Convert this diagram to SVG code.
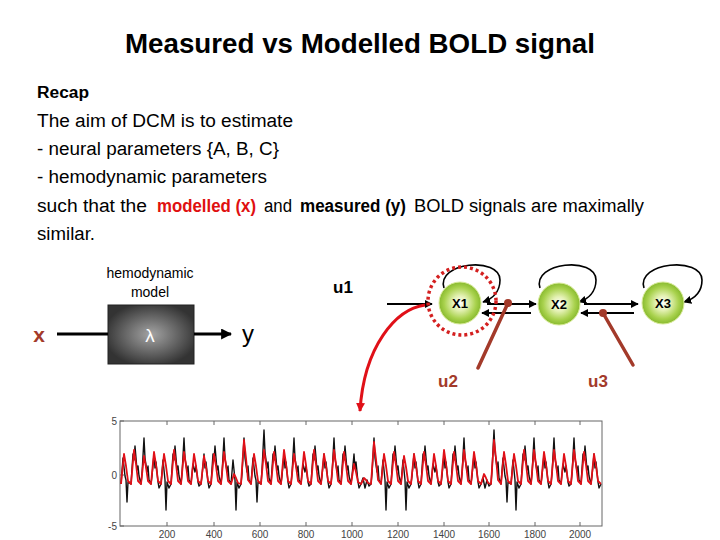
<svg xmlns="http://www.w3.org/2000/svg" width="720" height="540" viewBox="0 0 720 540">
<style>
.t{font-family:"Liberation Sans",Arial,sans-serif;fill:#000}
.b{font-weight:bold}
.body{font-size:18px}
.brown{fill:#a33a2a}
.ln{fill:none;stroke:#000;stroke-width:2}
.loop{fill:none;stroke:#000;stroke-width:1.6}
.mod{stroke:#a33a2a;stroke-width:3.5;stroke-linecap:round}
.tick{stroke:#666;stroke-width:1}
.ax{font-family:"Liberation Sans",Arial,sans-serif;font-size:10px;fill:#444}
.nl{font-family:"Liberation Sans",Arial,sans-serif;font-size:13px;font-weight:bold;fill:#000;text-anchor:middle}
</style>
<defs>
<marker id="ab" viewBox="0 0 10 10" refX="9" refY="5" markerWidth="8" markerHeight="8" markerUnits="userSpaceOnUse" orient="auto"><path d="M0,0 L10,5 L0,10 z" fill="#000"/></marker>
<marker id="abig" viewBox="0 0 10 10" refX="9" refY="5" markerWidth="11" markerHeight="11" markerUnits="userSpaceOnUse" orient="auto"><path d="M0,0 L10,5 L0,10 z" fill="#000"/></marker>
<marker id="ar" viewBox="0 0 10 10" refX="9" refY="5" markerWidth="9" markerHeight="9" markerUnits="userSpaceOnUse" orient="auto"><path d="M0,0 L10,5 L0,10 z" fill="#e01018"/></marker>
<radialGradient id="gn" cx="50%" cy="50%" r="50%">
<stop offset="0%" stop-color="#ffffff"/><stop offset="35%" stop-color="#e4f1b4"/><stop offset="75%" stop-color="#a9d24e"/><stop offset="100%" stop-color="#88ba2e"/>
</radialGradient>
<radialGradient id="gb" cx="50%" cy="50%" r="55%">
<stop offset="0%" stop-color="#a4a4a4"/><stop offset="100%" stop-color="#333333"/>
</radialGradient>
</defs>
<rect width="720" height="540" fill="#fff"/>

<g id="text">
<text class="t b" x="125" y="53" font-size="28" textLength="470" lengthAdjust="spacingAndGlyphs">Measured vs Modelled BOLD signal</text>
<text class="t b" x="37" y="98" font-size="16" textLength="52" lengthAdjust="spacingAndGlyphs">Recap</text>
<text class="t body" x="37" y="127" textLength="256" lengthAdjust="spacingAndGlyphs">The aim of DCM is to estimate</text>
<text class="t body" x="37" y="155" textLength="242" lengthAdjust="spacingAndGlyphs">- neural parameters {A, B, C}</text>
<text class="t body" x="37" y="183" textLength="230" lengthAdjust="spacingAndGlyphs">- hemodynamic parameters</text>
<text class="t body" x="37" y="212" textLength="110" lengthAdjust="spacingAndGlyphs">such that the</text>
<text class="t body b" x="157" y="212" style="fill:#e01010" textLength="99" lengthAdjust="spacingAndGlyphs">modelled (x)</text>
<text class="t body" x="264" y="212" textLength="28" lengthAdjust="spacingAndGlyphs">and</text>
<text class="t body b" x="300" y="212" textLength="106" lengthAdjust="spacingAndGlyphs">measured (y)</text>
<text class="t body" x="414" y="212" textLength="230" lengthAdjust="spacingAndGlyphs">BOLD signals are maximally</text>
<text class="t body" x="37" y="240" textLength="58" lengthAdjust="spacingAndGlyphs">similar.</text>
</g>

<g id="hemo-label">
<text class="t" x="150" y="278" font-size="14" text-anchor="middle" fill="#222">hemodynamic</text>
<text class="t" x="150" y="297" font-size="14" text-anchor="middle" fill="#222">model</text>
</g>
<g id="node-x-in"><text class="t b brown" x="39" y="342" font-size="21" text-anchor="middle">x</text></g>
<g id="node-hemo">
<rect x="108" y="305" width="86" height="59" fill="url(#gb)" stroke="#222" stroke-width="1"/>
<text class="t" x="150" y="342" font-size="19" text-anchor="middle" style="fill:#fff">λ</text>
</g>
<g id="node-y-out"><text class="t" x="248" y="342" font-size="24" text-anchor="middle">y</text></g>
<g id="label-u1"><text class="t b" x="333" y="293" font-size="17">u1</text></g>
<g id="label-u2"><text class="t b brown" x="448" y="387" font-size="17" text-anchor="middle">u2</text></g>
<g id="label-u3"><text class="t b brown" x="598" y="387" font-size="17" text-anchor="middle">u3</text></g>

<g id="connectors">
<line x1="57" y1="334" x2="108" y2="334" stroke="#000" stroke-width="3"/>
<line x1="194" y1="334" x2="231" y2="334" stroke="#000" stroke-width="3" marker-end="url(#abig)"/>
<path class="loop" d="M444 288 C436 262 500 256 500 280 C500 292 492 299 483 302" marker-end="url(#ab)"/>
<path class="loop" d="M540 288 C532 262 596 256 596 280 C596 292 588 299 579 302" marker-end="url(#ab)"/>
<path class="loop" d="M644 288 C636 262 702 256 702 280 C702 292 694 299 684 302" marker-end="url(#ab)"/>
<line class="ln" x1="387" y1="304" x2="432" y2="304" marker-end="url(#ab)"/>
<line class="ln" x1="487" y1="304" x2="536" y2="304" marker-end="url(#ab)"/>
<line class="ln" x1="531" y1="313" x2="482" y2="313" marker-end="url(#ab)"/>
<line class="ln" x1="584" y1="304" x2="638" y2="304" marker-end="url(#ab)"/>
<line class="ln" x1="634" y1="313" x2="581" y2="313" marker-end="url(#ab)"/>
<path d="M425 305 C396 309 364 346 360 411" fill="none" stroke="#e01018" stroke-width="3" marker-end="url(#ar)"/>
</g>

<g id="node-X1">
<circle cx="460" cy="303" r="21" fill="url(#gn)" stroke="#d8ea9a" stroke-width="1"/>
<text class="nl" x="460" y="308">X1</text>
<circle cx="462" cy="301" r="34" fill="none" stroke="#d42020" stroke-width="3.5" stroke-dasharray="3 3"/>
</g>
<g id="node-X2">
<circle cx="559" cy="304" r="21" fill="url(#gn)" stroke="#d8ea9a" stroke-width="1"/>
<text class="nl" x="559" y="309">X2</text>
</g>
<g id="node-X3">
<circle cx="663" cy="303" r="21" fill="url(#gn)" stroke="#d8ea9a" stroke-width="1"/>
<text class="nl" x="663" y="308">X3</text>
</g>

<g id="modulators">
<line class="mod" x1="478" y1="368" x2="508" y2="303"/>
<circle cx="508" cy="303" r="4" fill="#a33a2a"/>
<line class="mod" x1="633" y1="365" x2="603" y2="313"/>
<circle cx="603" cy="313" r="4" fill="#a33a2a"/>
</g>

<g id="plot">
<rect x="120" y="421" width="482" height="105" fill="#fff" stroke="#666" stroke-width="1"/>
<g class="tick">
<line x1="120" y1="421" x2="124" y2="421"/><line x1="120" y1="475" x2="124" y2="475"/><line x1="120" y1="526" x2="124" y2="526"/>
<line x1="167" y1="526" x2="167" y2="522"/><line x1="214" y1="526" x2="214" y2="522"/><line x1="260" y1="526" x2="260" y2="522"/><line x1="306" y1="526" x2="306" y2="522"/><line x1="352" y1="526" x2="352" y2="522"/><line x1="398" y1="526" x2="398" y2="522"/><line x1="444" y1="526" x2="444" y2="522"/><line x1="489" y1="526" x2="489" y2="522"/><line x1="535" y1="526" x2="535" y2="522"/><line x1="580" y1="526" x2="580" y2="522"/>
<line x1="167" y1="421" x2="167" y2="425"/><line x1="214" y1="421" x2="214" y2="425"/><line x1="260" y1="421" x2="260" y2="425"/><line x1="306" y1="421" x2="306" y2="425"/><line x1="352" y1="421" x2="352" y2="425"/><line x1="398" y1="421" x2="398" y2="425"/><line x1="444" y1="421" x2="444" y2="425"/><line x1="489" y1="421" x2="489" y2="425"/><line x1="535" y1="421" x2="535" y2="425"/><line x1="580" y1="421" x2="580" y2="425"/>
</g>
<text class="ax" x="117" y="425" text-anchor="end">5</text>
<text class="ax" x="117" y="479" text-anchor="end">0</text>
<text class="ax" x="117" y="530" text-anchor="end">-5</text>
<g class="ax" text-anchor="middle">
<text x="167" y="538">200</text><text x="214" y="538">400</text><text x="260" y="538">600</text><text x="306" y="538">800</text><text x="352" y="538">1000</text><text x="398" y="538">1200</text><text x="444" y="538">1400</text><text x="489" y="538">1600</text><text x="535" y="538">1800</text><text x="580" y="538">2000</text>
</g>
<path fill="none" stroke="#111" stroke-width="1.4" stroke-linejoin="round" d="M121 484
l2,-26 2,18 1,4 1,22 1,-20 3,2
l2,-30 1,6 1,-14 2,24 1,-4 1,10 2,8
l1,-10 2,-36 1,20 2,14 1,-6 1,14 2,4
l1,-8 2,-22 1,14 1,-6 2,20 1,6 2,-4
l2,-24 2,20 1,30 1,-28 2,6 2,-4
l2,-30 1,6 1,-14 2,24 1,-4 1,10 2,8
l1,-10 2,-36 1,20 2,14 1,-6 1,14 2,4
l2,-20 2,8 1,-6 2,16 1,4 2,-2
l1,-8 2,-22 1,14 1,-6 2,20 1,6 2,-4
l2,-30 1,6 1,-14 2,24 1,-4 1,10 2,8
l1,-10 2,-36 1,20 2,14 1,-6 1,14 2,4
l2,-24 2,20 1,30 1,-28 2,6 2,-4
l1,-10 2,-36 1,20 2,14 1,-6 1,14 2,4
l2,-26 2,18 1,4 1,22 1,-20 3,2
l1,-14 2,-40 1,22 2,16 1,-6 1,16 2,6
l2,-30 1,6 1,-14 2,24 1,-4 1,10 2,8
l1,-8 2,-22 1,14 1,-6 2,20 1,6 2,-4
l1,-10 2,-36 1,20 2,14 1,-6 1,14 2,4
l2,-20 2,8 1,-6 2,16 1,4 2,-2
l2,-30 1,6 1,-14 2,24 1,-4 1,10 2,8
l1,-8 2,-22 1,14 1,-6 2,20 1,6 2,-4
l1,-10 2,-36 1,20 2,14 1,-6 1,14 2,4
l2,-30 1,6 1,-14 2,24 1,-4 1,10 2,8
l1,-8 2,-22 1,14 1,-6 2,20 1,6 2,-4
l2,-6 2,10 2,-8 2,6 2,-2
l1,-10 2,-36 1,20 2,14 1,-6 1,14 2,4
l2,-24 2,20 1,30 1,-28 2,6 2,-4
l2,-30 1,6 1,-14 2,24 1,-4 1,10 2,8
l2,-24 2,20 1,30 1,-28 2,6 2,-4
l1,-8 2,-22 1,14 1,-6 2,20 1,6 2,-4
l2,-30 1,6 1,-14 2,24 1,-4 1,10 2,8
l2,-20 2,8 1,-6 2,16 1,4 2,-2
l1,-8 2,-22 1,14 1,-6 2,20 1,6 2,-4
l2,-30 1,6 1,-14 2,24 1,-4 1,10 2,8
l1,-10 2,-36 1,20 2,14 1,-6 1,14 2,4
l1,-8 2,-22 1,14 1,-6 2,20 1,6 2,-4
l2,-6 2,10 2,-8 2,6 2,-2
l1,-14 2,-40 1,22 2,16 1,-6 1,16 2,6
l2,-26 2,18 1,4 1,22 1,-20 3,2
l2,-24 2,20 1,30 1,-28 2,6 2,-4
l2,-30 1,6 1,-14 2,24 1,-4 1,10 2,8
l1,-10 2,-36 1,20 2,14 1,-6 1,14 2,4
l1,-8 2,-22 1,14 1,-6 2,20 1,6 2,-4
l1,-10 2,-36 1,20 2,14 1,-6 1,14 2,4
l2,-20 2,8 1,-6 2,16 1,4 2,-2
l1,-10 2,-36 1,20 2,14 1,-6 1,14 2,4
l2,-30 1,6 1,-14 2,24 1,-4 1,10 2,8
l1,-8 2,-22 1,14 1,-6 2,20 1,6 2,-4"/>
<path fill="none" stroke="#e01018" stroke-width="1.8" stroke-linejoin="round" d="M121 484
l3,-30 2,12 2,15 3,3
l3,-34 2,14 2,17 3,3
l3,-28 2,11 2,14 3,3
l3,-32 2,13 2,16 3,3
l3,-30 2,12 2,15 3,3
l3,-34 2,14 2,17 3,3
l3,-32 2,13 2,16 3,3
l3,-30 2,12 2,15 3,3
l3,-28 2,11 2,14 3,3
l3,-30 2,12 2,15 3,3
l3,-32 2,13 2,16 3,3
l3,-10 2,4 2,5 3,1
l3,-44 2,18 2,22 3,4
l3,-30 2,12 2,15 3,3
l3,-34 2,14 2,17 3,3
l3,-32 2,13 2,16 3,3
l3,-34 2,14 2,17 3,3
l3,-30 2,12 2,15 3,3
l3,-32 2,13 2,16 3,3
l3,-34 2,14 2,17 3,3
l3,-30 2,12 2,15 3,3
l3,-34 2,14 2,17 3,3
l3,-32 2,13 2,16 3,3
l3,-20 2,8 2,10 3,2
l3,-6 2,2 2,3 3,1
l3,-42 2,17 2,21 3,4
l3,-30 2,12 2,15 3,3
l3,-32 2,13 2,16 3,3
l3,-28 2,11 2,14 3,3
l3,-30 2,12 2,15 3,3
l3,-32 2,13 2,16 3,3
l3,-30 2,12 2,15 3,3
l3,-34 2,14 2,17 3,3
l3,-32 2,13 2,16 3,3
l3,-34 2,14 2,17 3,3
l3,-32 2,13 2,16 3,3
l3,-10 2,4 2,5 3,1
l3,-44 2,18 2,22 3,4
l3,-32 2,13 2,16 3,3
l3,-30 2,12 2,15 3,3
l3,-34 2,14 2,17 3,3
l3,-34 2,14 2,17 3,3
l3,-32 2,13 2,16 3,3
l3,-34 2,14 2,17 3,3
l3,-30 2,12 2,15 3,3
l3,-34 2,14 2,17 3,3
l3,-32 2,13 2,16 3,3
l3,-30 2,12 2,15 3,3"/>
</g>
</svg>
